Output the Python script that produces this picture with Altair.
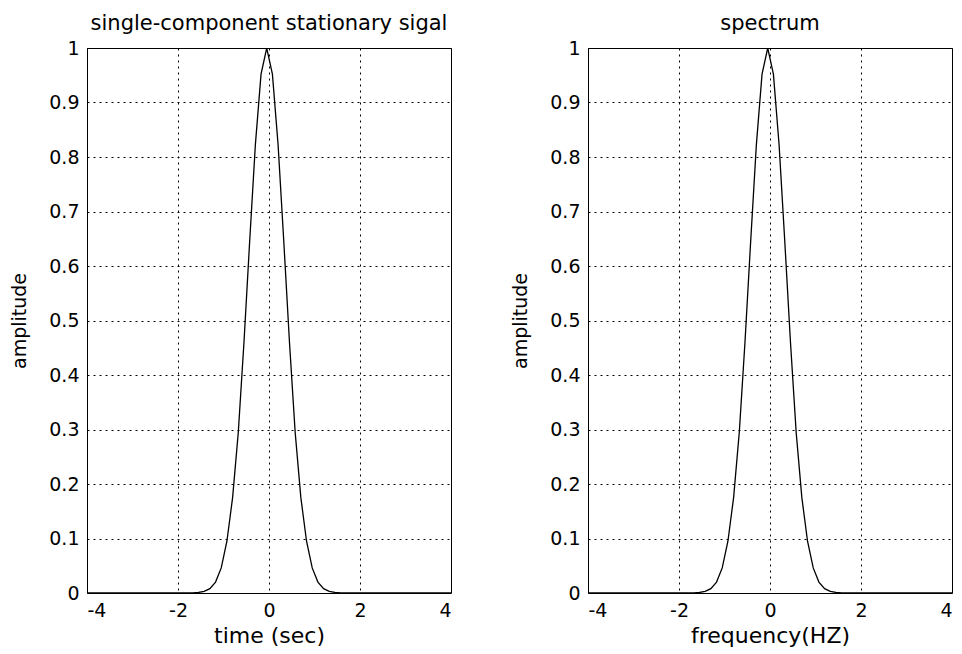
import altair as alt
import pandas as pd

# Samples (both panels show the same Gaussian-like pulse)
time_x = [-4.0, -1.675, -1.55, -1.425, -1.3, -1.175, -1.05, -0.925, -0.8, -0.675,
          -0.55, -0.425, -0.3, -0.175, -0.05, 0.075, 0.2, 0.325, 0.45, 0.575,
          0.7, 0.825, 0.95, 1.075, 1.2, 1.325, 1.45, 1.575, 4.0]
time_amp = [0.0, 0.0, 0.001, 0.003, 0.008, 0.02, 0.046, 0.095, 0.175, 0.295,
            0.46, 0.645, 0.822, 0.952, 1.0, 0.952, 0.822, 0.645, 0.46, 0.295,
            0.175, 0.095, 0.046, 0.02, 0.008, 0.003, 0.001, 0.0, 0.0]

freq_x = [-4.0, -1.675, -1.55, -1.425, -1.3, -1.175, -1.05, -0.925, -0.8, -0.675,
          -0.55, -0.425, -0.3, -0.175, -0.05, 0.075, 0.2, 0.325, 0.45, 0.575,
          0.7, 0.825, 0.95, 1.075, 1.2, 1.325, 1.45, 1.575, 4.0]
freq_amp = [0.0, 0.0, 0.001, 0.003, 0.008, 0.02, 0.046, 0.095, 0.175, 0.295,
            0.46, 0.645, 0.822, 0.952, 1.0, 0.952, 0.822, 0.645, 0.46, 0.295,
            0.175, 0.095, 0.046, 0.02, 0.008, 0.003, 0.001, 0.0, 0.0]

x_ticks = [-4, -2, 0, 2, 4]
y_ticks = [0, 0.1, 0.2, 0.3, 0.4, 0.5, 0.6, 0.7, 0.8, 0.9, 1]

FONT = "DejaVu Sans"


def panel(xs, ys, x_title, title):
    df = pd.DataFrame({"x": xs, "y": ys})
    return alt.Chart(df).mark_line(color="black", strokeWidth=1.3, clip=True).encode(
        x=alt.X("x:Q",
                scale=alt.Scale(domain=[-4, 4], nice=False, zero=False),
                axis=alt.Axis(values=x_ticks, title=x_title,
                              labelExpr="datum.value < 0 ? '-' + (-datum.value) : '' + datum.value",
                              labelPadding=8, titlePadding=5, titleFontSize=22)),
        y=alt.Y("y:Q",
                scale=alt.Scale(domain=[0, 1], nice=False),
                axis=alt.Axis(values=y_ticks, title="amplitude", format="~g",
                              labelPadding=8, titlePadding=19, titleFontSize=19)),
    ).properties(
        width=364, height=545,
        title=alt.TitleParams(title, font=FONT, fontSize=21, fontWeight="normal",
                              color="black", offset=5),
    )


left = panel(time_x, time_amp, "time (sec)", "single-component stationary sigal")
right = panel(freq_x, freq_amp, "frequency(HZ)", "spectrum")

chart = alt.hconcat(left, right, spacing=137, bounds="flush").properties(
    padding={"left": 10, "top": 12, "right": 0, "bottom": 0},
    background="white",
).configure_view(
    stroke="black", strokeWidth=1
).configure_axis(
    grid=True, gridColor="black", gridDash=[2, 4], gridWidth=1, gridOpacity=1,
    domain=False, ticks=False,
    labelFont=FONT, labelFontSize=19, labelColor="black",
    titleFont=FONT, titleFontWeight="normal", titleColor="black",
)

chart.save("out.html", embed_options={"renderer": "svg", "actions": False})
